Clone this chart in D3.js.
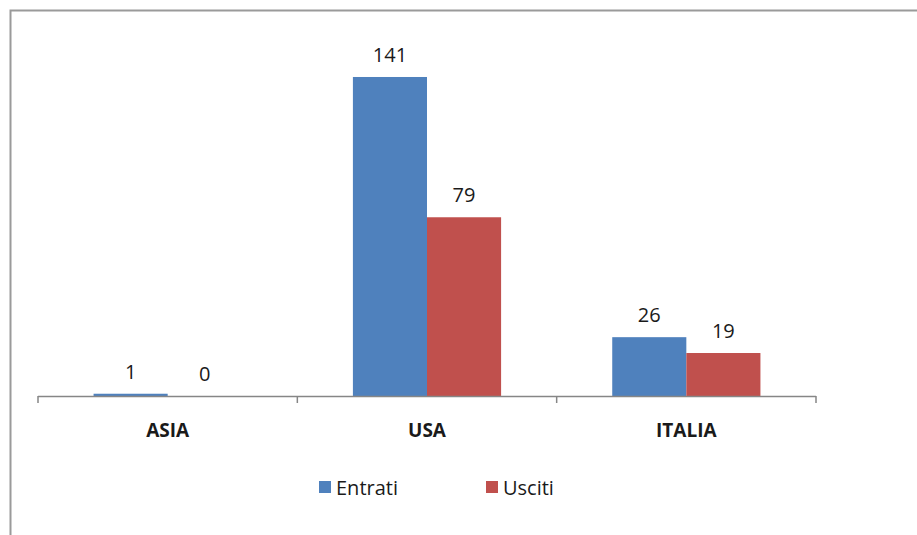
<!DOCTYPE html>
<html>
<head>
<meta charset="utf-8">
<script src="https://cdn.jsdelivr.net/npm/d3@7"></script>
<style>
  body { margin: 0; background: #fff; }
  svg { display: block; }
</style>
</head>
<body>
<svg id="chart" width="917" height="535"></svg>
<script>
var categories = ["ASIA", "USA", "ITALIA"];
var seriesNames = ["Entrati", "Usciti"];
var entrati = [1, 141, 26];
var usciti = [0, 79, 19];
var seriesColors = ["#4f81bd", "#c0504d"];

var svg = d3.select("#chart");
var font = "'Open Sans', 'Noto Sans', sans-serif";

// outer frame of the chart area (runs off the right and bottom edge)
svg.append("rect")
  .attr("x", 10.5).attr("y", 10.5)
  .attr("width", 940).attr("height", 560)
  .attr("fill", "none")
  .attr("stroke", "#9a9a9a")
  .attr("stroke-width", 2);

var plotLeft = 38, plotRight = 816, base = 396, plotTop = 34;

var x = d3.scaleBand().domain(categories).range([plotLeft, plotRight]).paddingInner(0).paddingOuter(0);
var x1 = d3.scaleBand().domain(seriesNames).range([0, x.bandwidth()]).paddingInner(0).paddingOuter(0.75);
var y = d3.scaleLinear().domain([0, 160]).range([base, plotTop]);

var rows = categories.map(function(c, i) {
  return { cat: c, values: [entrati[i], usciti[i]] };
});

var groups = svg.selectAll("g.cat").data(rows).enter().append("g")
  .attr("class", "cat")
  .attr("transform", function(d) { return "translate(" + x(d.cat) + ",0)"; });

groups.selectAll("rect").data(function(d) {
  return d.values.map(function(v, j) { return { name: seriesNames[j], v: v, j: j }; });
}).enter().append("rect")
  .attr("x", function(d) { return x1(d.name); })
  .attr("y", function(d) { return y(d.v); })
  .attr("width", x1.bandwidth())
  .attr("height", function(d) { return base - y(d.v); })
  .attr("fill", function(d) { return seriesColors[d.j]; });

groups.selectAll("text.val").data(function(d) {
  return d.values.map(function(v, j) { return { name: seriesNames[j], v: v }; });
}).enter().append("text")
  .attr("class", "val")
  .attr("x", function(d) { return x1(d.name) + x1.bandwidth() / 2; })
  .attr("y", function(d) { return y(d.v) - 15; })
  .attr("text-anchor", "middle")
  .style("font-family", font)
  .style("font-size", "20px")
  .attr("fill", "#1a1a1a")
  .text(function(d) { return d.v; });

// category axis
svg.append("line")
  .attr("x1", plotLeft).attr("x2", plotRight)
  .attr("y1", base + 0.5).attr("y2", base + 0.5)
  .attr("stroke", "#868686").attr("stroke-width", 1.5);

var tickPos = categories.map(function(c) { return x(c); }).concat([plotRight]);
svg.selectAll("line.tk").data(tickPos).enter().append("line")
  .attr("class", "tk")
  .attr("x1", function(d) { return d; }).attr("x2", function(d) { return d; })
  .attr("y1", base).attr("y2", base + 7)
  .attr("stroke", "#868686").attr("stroke-width", 1.5);

svg.selectAll("text.catlabel").data(categories).enter().append("text")
  .attr("class", "catlabel")
  .attr("x", function(d) { return x(d) + x.bandwidth() / 2; })
  .attr("y", base + 41)
  .attr("text-anchor", "middle")
  .style("font-family", font)
  .style("font-size", "19px")
  .style("font-weight", "bold")
  .attr("fill", "#1a1a1a")
  .text(function(d) { return d; });

// legend
var legendX = [319, 486];
var legend = svg.selectAll("g.leg").data(seriesNames).enter().append("g")
  .attr("class", "leg")
  .attr("transform", function(d, i) { return "translate(" + legendX[i] + ",481)"; });
legend.append("rect")
  .attr("width", 12).attr("height", 12)
  .attr("fill", function(d, i) { return seriesColors[i]; });
legend.append("text")
  .attr("x", 17).attr("y", 14)
  .style("font-family", font)
  .style("font-size", "20px")
  .attr("fill", "#1a1a1a")
  .text(function(d) { return d; });
</script>
</body>
</html>
